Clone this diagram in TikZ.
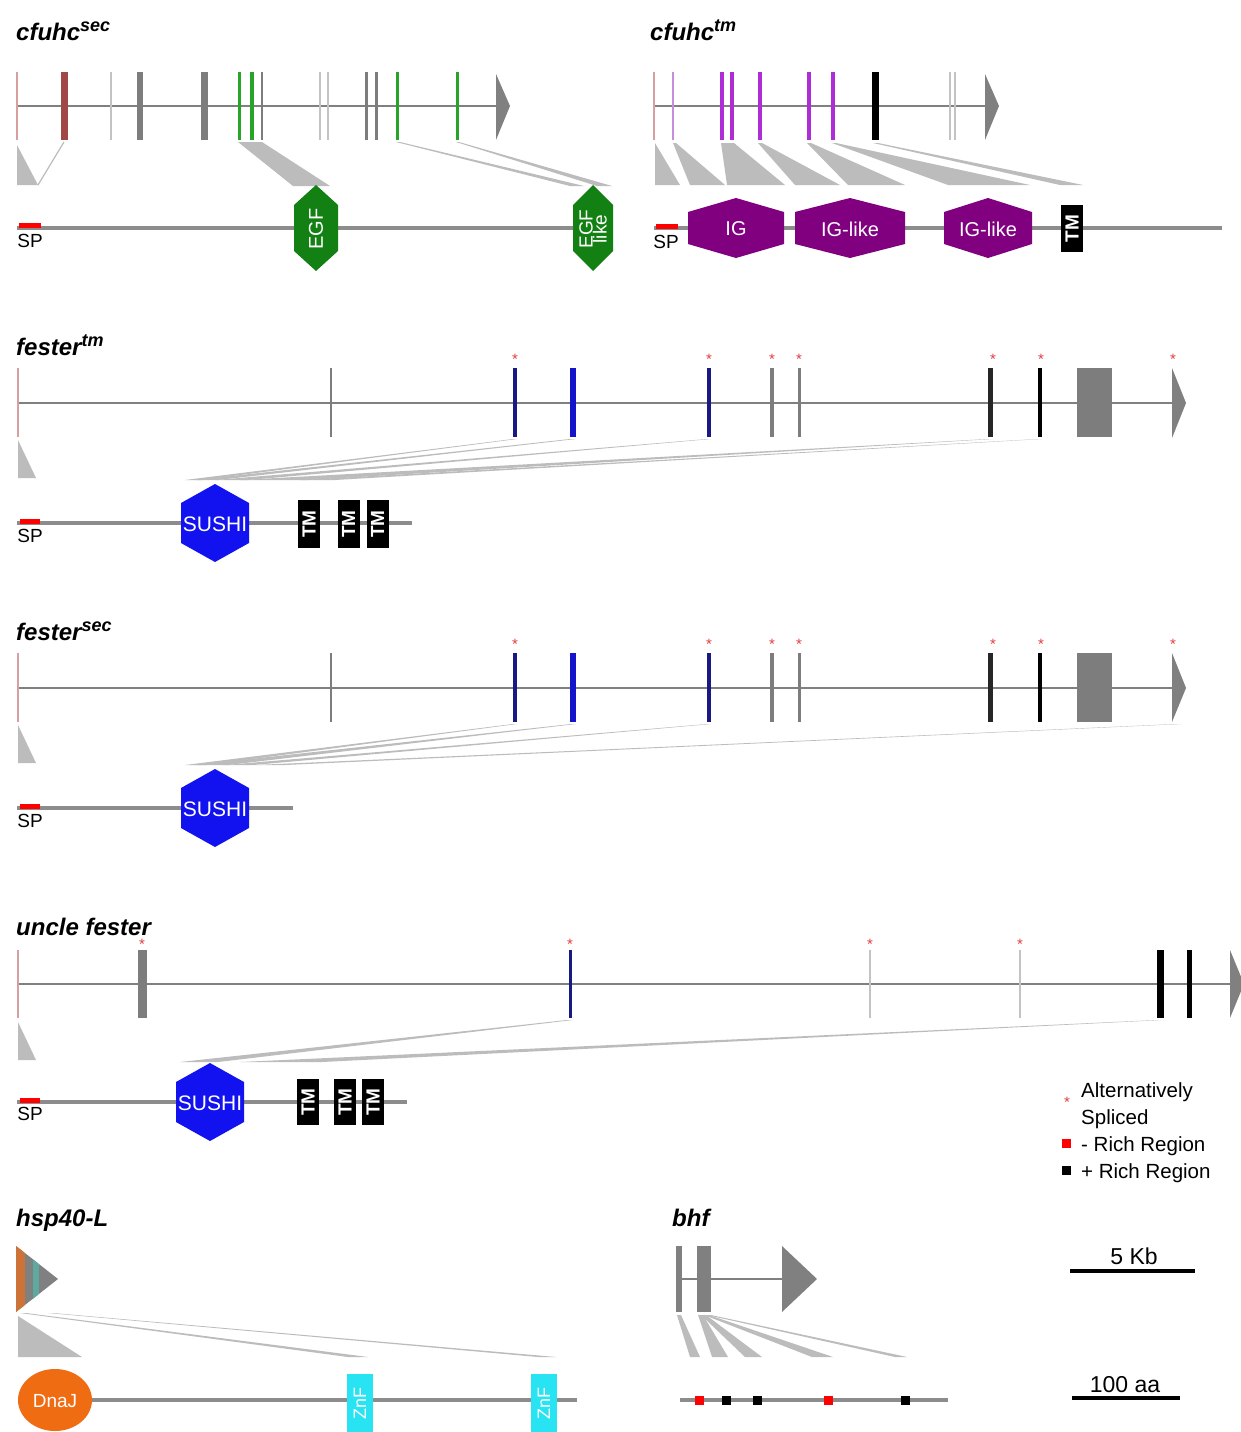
\documentclass[tikz,border=0pt]{standalone}
\usepackage{fontspec}
\setmainfont{Liberation Sans}
\definecolor{genegray}{RGB}{128,128,128}
\definecolor{protgray}{RGB}{140,140,140}
\definecolor{wedgegray}{RGB}{188,188,188}
\definecolor{exgray}{RGB}{125,125,125}
\definecolor{thingray}{RGB}{195,195,195}
\definecolor{darkredex}{RGB}{160,72,72}
\definecolor{thinred}{RGB}{215,160,160}
\definecolor{exgreen}{RGB}{40,165,40}
\definecolor{domgreen}{RGB}{18,128,18}
\definecolor{expurple}{RGB}{175,45,215}
\definecolor{thinpurple}{RGB}{200,140,220}
\definecolor{dompurple}{RGB}{128,0,128}
\definecolor{exnavy}{RGB}{25,25,130}
\definecolor{exblue}{RGB}{20,20,205}
\definecolor{sushiblue}{RGB}{18,18,240}
\definecolor{starred}{RGB}{225,60,60}
\definecolor{dnajorange}{RGB}{240,108,18}
\definecolor{hsporange}{RGB}{205,115,55}
\definecolor{hspteal}{RGB}{95,170,160}
\definecolor{znfcyan}{RGB}{40,228,242}
% exon bar: x-centre, width, top, bottom, colour
\newcommand{\exonbar}[5]{\fill[#5] ({#1-#2/2},#3) rectangle ({#1+#2/2},#4);}
% protein domain hexagon: name, cx, cy, width, height, corner drop, colour
\newcommand{\hexdom}[7]{%
  \fill[#7] (#2,{#3-#5/2}) -- ({#2+#4/2},{#3-#5/2+#6}) -- ({#2+#4/2},{#3+#5/2-#6})
    -- (#2,{#3+#5/2}) -- ({#2-#4/2},{#3+#5/2-#6}) -- ({#2-#4/2},{#3-#5/2+#6}) -- cycle;
  \coordinate (#1) at (#2,#3);}
% thin mapping sliver from an exon to a protein position
\newcommand{\sliver}[6]{\fill[wedge] (#1,#5) -- (#2,#5) -- (#3,#6) -- (#4,#6) -- cycle;}
\begin{document}
\begin{tikzpicture}[x=1pt,y=-1pt,
  intron/.style={draw=genegray,line width=1.8pt},
  prot/.style={draw=protgray,line width=4pt},
  wedge/.style={fill=wedgegray},
  wedgeline/.style={draw=wedgegray,line width=1.2pt},
  title/.style={anchor=base west,inner sep=0pt,font=\fontsize{24}{24}\selectfont\bfseries\itshape},
  splabel/.style={inner sep=0pt,font=\fontsize{19}{19}\selectfont},
  domlabel/.style={inner sep=0pt,text=white,font=\fontsize{20}{20}\selectfont},
  tmlabel/.style={inner sep=0pt,text=white,rotate=90,font=\fontsize{19}{19}\selectfont\bfseries},
  astx/.style={inner sep=0pt,text=starred,font=\fontsize{15}{15}\selectfont},
  legendtext/.style={anchor=base west,inner sep=0pt,font=\fontsize{20.5}{20.5}\selectfont},
  scaletext/.style={anchor=base,inner sep=0pt,font=\fontsize{23}{23}\selectfont}]
\useasboundingbox (0,0) rectangle (1241,1432);
\fill[white] (0,0) rectangle (1241,1432);
\newcommand{\supx}[1]{\raisebox{9pt}{\fontsize{18}{18}\selectfont #1}}

% ================= cfuhc sec =================
\node[title] (t1) at (16,40) {cfuhc\supx{sec}};
\draw[intron] (17,106) -- (496,106);
\fill[genegray] (496,74) -- (510,106) -- (496,140) -- cycle;
\exonbar{17}{1.5}{72}{140}{thinred}
\exonbar{64}{7}{72}{140}{darkredex}
\exonbar{111}{1.5}{72}{140}{thingray}
\exonbar{140}{6}{72}{140}{exgray}
\exonbar{204}{7}{72}{140}{exgray}
\exonbar{239}{3}{72}{140}{exgreen}
\exonbar{252}{4}{72}{140}{exgreen}
\exonbar{262}{2.5}{72}{140}{exgray}
\exonbar{320}{1.5}{72}{140}{thingray}
\exonbar{328}{1.5}{72}{140}{thingray}
\exonbar{366}{3}{72}{140}{exgray}
\exonbar{376}{3}{72}{140}{exgray}
\exonbar{397}{3}{72}{140}{exgreen}
\exonbar{457}{3}{72}{140}{exgreen}
\fill[wedge] (17,145) -- (17,185) -- (38,185) -- cycle;
\draw[wedgeline] (64,142) -- (38,185);
\fill[wedge] (238,142) -- (262,142) -- (330,186) -- (293,186) -- cycle;
\sliver{396}{400}{584}{570}{142}{186}
\sliver{456}{459}{612}{597}{142}{186}
\draw[prot] (17,228) -- (612,228);
\fill[red] (19,223) rectangle (41,228);
\node[splabel] (sp1) at (30,241) {SP};
\hexdom{egf1}{316}{228}{44}{86}{20}{domgreen}
\node[domlabel,rotate=90,font=\fontsize{20}{20}\selectfont] (egf1l) at (316,229) {EGF};
\hexdom{egf2}{593}{228}{40}{86}{20}{domgreen}
\node[domlabel,rotate=90,align=center,font=\fontsize{19}{14}\selectfont] (egf2l) at (593,229) {EGF\\like};

% ================= cfuhc tm =================
\node[title] (t2) at (650,40) {cfuhc\supx{tm}};
\draw[intron] (654,106) -- (985,106);
\fill[genegray] (985,74) -- (999,106) -- (985,140) -- cycle;
\exonbar{654}{1.5}{72}{140}{thinred}
\exonbar{673}{1.5}{72}{140}{thinpurple}
\exonbar{722}{3.5}{72}{140}{expurple}
\exonbar{732}{3.5}{72}{140}{expurple}
\exonbar{760}{3.5}{72}{140}{expurple}
\exonbar{809}{3.5}{72}{140}{expurple}
\exonbar{833}{3.5}{72}{140}{expurple}
\exonbar{875}{7}{72}{140}{black}
\exonbar{950}{1.5}{72}{140}{thingray}
\exonbar{955}{1.5}{72}{140}{thingray}
\fill[wedge] (655,143) -- (655,185) -- (680,185) -- cycle;
\sliver{673}{676}{725}{690}{143}{185}
\sliver{721}{734}{785}{727}{143}{185}
\sliver{758}{762}{840}{795}{143}{185}
\sliver{807}{811}{905}{848}{143}{185}
\sliver{832}{836}{1030}{948}{143}{185}
\sliver{873}{878}{1083}{1060}{143}{185}
\draw[prot] (654,228) -- (1222,228);
\fill[red] (656,224) rectangle (678,229);
\node[splabel] (sp2) at (666,242) {SP};
\hexdom{ig1}{736}{228}{96}{60}{14}{dompurple}
\node[domlabel] (ig1l) at (736,229) {IG};
\hexdom{ig2}{850}{228}{110}{60}{14}{dompurple}
\node[domlabel] (ig2l) at (850,229) {IG-like};
\hexdom{ig3}{988}{228}{88}{60}{14}{dompurple}
\node[domlabel] (ig3l) at (988,229) {IG-like};
\fill[black] (1061,205) rectangle (1083,252);
\node[tmlabel] (tm0) at (1072,228.5) {TM};

% ================= fester tm =================
\node[title] (t3) at (16,355) {fester\supx{tm}};
\draw[intron] (17,403) -- (1172,403);
\fill[genegray] (1172,368) -- (1186,403) -- (1172,438) -- cycle;
\exonbar{18}{1.5}{368}{437}{thinred}
\exonbar{331}{2.5}{368}{437}{exgray}
\exonbar{515}{3.5}{368}{437}{exnavy}
\exonbar{573}{6}{368}{437}{exblue}
\exonbar{709}{3.5}{368}{437}{exnavy}
\exonbar{772}{4}{368}{437}{exgray}
\exonbar{799}{3}{368}{437}{exgray}
\exonbar{990}{5}{368}{437}{black!85}
\exonbar{1040}{4}{368}{437}{black}
\fill[exgray] (1077,368) rectangle (1112,437);
\foreach \sx [count=\si] in {515,709,772,799,993,1041,1173}
  \node[astx] (ftstar\si) at (\sx,359) {*};
\fill[wedge] (18,440) -- (18,478) -- (36,478) -- cycle;
\sliver{513}{517}{202}{185}{439}{480}
\sliver{570}{576}{218}{195}{439}{480}
\sliver{707}{711}{248}{215}{439}{480}
\sliver{988}{993}{308}{240}{439}{480}
\sliver{1038}{1042}{335}{300}{439}{480}
\draw[prot] (17,523) -- (412,523);
\fill[red] (20,519) rectangle (40,524);
\node[splabel] (sp3) at (30,536) {SP};
\hexdom{sushi1}{215}{523}{68}{78}{19}{sushiblue}
\node[domlabel,font=\fontsize{21}{21}\selectfont] (sushi1l) at (215,524) {SUSHI};
\foreach \tx [count=\ti] in {309,348.5,377.5} {
  \fill[black] ({\tx-11},500) rectangle ({\tx+11},548);
  \node[tmlabel] (tma\ti) at (\tx,524) {TM};
}

% ================= fester sec =================
\node[title] (t4) at (16,640) {fester\supx{sec}};
\draw[intron] (17,688) -- (1172,688);
\fill[genegray] (1172,653) -- (1186,688) -- (1172,722) -- cycle;
\exonbar{18}{1.5}{653}{722}{thinred}
\exonbar{331}{2.5}{653}{722}{exgray}
\exonbar{515}{3.5}{653}{722}{exnavy}
\exonbar{573}{6}{653}{722}{exblue}
\exonbar{709}{3.5}{653}{722}{exnavy}
\exonbar{772}{4}{653}{722}{exgray}
\exonbar{799}{3}{653}{722}{exgray}
\exonbar{990}{5}{653}{722}{black!85}
\exonbar{1040}{4}{653}{722}{black}
\fill[exgray] (1077,653) rectangle (1112,722);
\foreach \sx [count=\si] in {515,709,772,799,993,1041,1173}
  \node[astx] (fsstar\si) at (\sx,644) {*};
\fill[wedge] (18,725) -- (18,763) -- (36,763) -- cycle;
\sliver{513}{517}{207}{185}{724}{765}
\sliver{571}{576}{228}{195}{724}{765}
\sliver{707}{711}{253}{225}{724}{765}
\sliver{1176}{1182}{285}{255}{724}{765}
\draw[prot] (17,808) -- (293,808);
\fill[red] (20,804) rectangle (40,809);
\node[splabel] (sp4) at (30,821) {SP};
\hexdom{sushi2}{215}{808}{68}{78}{19}{sushiblue}
\node[domlabel,font=\fontsize{21}{21}\selectfont] (sushi2l) at (215,809) {SUSHI};

% ================= uncle fester =================
\node[title] (t5) at (16,935) {uncle fester};
\draw[intron] (17,984) -- (1230,984);
\fill[genegray] (1230,950) -- (1244,984) -- (1230,1018) -- cycle;
\exonbar{18}{1.5}{950}{1018}{thinred}
\exonbar{142}{9}{950}{1018}{exgray}
\exonbar{570}{3}{950}{1018}{exnavy}
\exonbar{870}{1.5}{950}{1018}{thingray}
\exonbar{1020}{1.5}{950}{1018}{thingray}
\exonbar{1160}{7}{950}{1018}{black}
\exonbar{1189}{5}{950}{1018}{black}
\foreach \sx [count=\si] in {142,570,870,1020}
  \node[astx] (ufstar\si) at (\sx,944) {*};
\fill[wedge] (18,1022) -- (18,1060) -- (36,1060) -- cycle;
\sliver{567}{573}{218}{180}{1020}{1062}
\sliver{1157}{1163}{322}{240}{1020}{1062}
\draw[prot] (17,1102) -- (407,1102);
\fill[red] (20,1098) rectangle (40,1103);
\node[splabel] (sp5) at (30,1114) {SP};
\hexdom{sushi3}{210}{1102}{68}{78}{19}{sushiblue}
\node[domlabel,font=\fontsize{21}{21}\selectfont] (sushi3l) at (210,1103) {SUSHI};
\foreach \tx [count=\ti] in {308,345,373} {
  \fill[black] ({\tx-11},1079) rectangle ({\tx+11},1125);
  \node[tmlabel] (tmb\ti) at (\tx,1102) {TM};
}

% ================= legend =================
\node[astx] (legstar) at (1067,1102) {*};
\node[legendtext] (leg1) at (1081,1097) {Alternatively};
\node[legendtext] (leg2) at (1081,1124) {Spliced};
\fill[red] (1062,1139) rectangle (1071,1148);
\node[legendtext] (leg3) at (1081,1151) {- Rich Region};
\fill[black] (1062,1166) rectangle (1071,1175);
\node[legendtext] (leg4) at (1081,1178) {+ Rich Region};

% ================= hsp40-L =================
\node[title] (t6) at (16,1226) {hsp40-L};
\fill[genegray] (16,1246) -- (58,1279) -- (16,1312) -- cycle;
\begin{scope}
  \clip (16,1246) -- (58,1279) -- (16,1312) -- cycle;
  \fill[hsporange] (16,1240) rectangle (25,1320);
  \fill[hspteal] (33,1240) rectangle (39,1320);
\end{scope}
\fill[wedge] (18,1316) -- (18,1357) -- (82,1357) -- cycle;
\sliver{20}{26}{368}{348}{1313}{1357}
\sliver{48}{53}{556}{538}{1313}{1357}
\draw[prot] (55,1400) -- (577,1400);
\fill[dnajorange] (55,1400) ellipse [x radius=37, y radius=31];
\node[domlabel,font=\fontsize{19}{19}\selectfont] (dnaj) at (55,1401) {DnaJ};
\fill[znfcyan] (347,1374) rectangle (373,1434);
\node[domlabel,rotate=90,font=\fontsize{18}{18}\selectfont] (znf1) at (360,1403) {ZnF};
\fill[znfcyan] (531,1374) rectangle (557,1434);
\node[domlabel,rotate=90,font=\fontsize{18}{18}\selectfont] (znf2) at (544,1403) {ZnF};

% ================= bhf =================
\node[title] (t7) at (672,1226) {bhf};
\draw[intron] (680,1279) -- (782,1279);
\fill[genegray] (676,1246) rectangle (682,1312);
\fill[genegray] (697,1246) rectangle (711,1312);
\fill[genegray] (782,1246) -- (817,1279) -- (782,1312) -- cycle;
\sliver{677}{681}{700}{690}{1315}{1357}
\sliver{698}{703}{728}{712}{1315}{1357}
\sliver{701}{706}{762}{745}{1315}{1357}
\sliver{704}{709}{833}{812}{1315}{1357}
\sliver{707}{711}{907}{895}{1315}{1357}
\draw[prot] (680,1400) -- (948,1400);
\foreach \bx/\bc [count=\bi] in {699/red,726/black,757/black,828/red,905/black}
  \fill[\bc] ({\bx-4.5},1395.5) rectangle ({\bx+4.5},1404.5);

% ================= scale bars =================
\node[scaletext] (kb) at (1134,1264) {5 Kb};
\draw[line width=3.5pt] (1070,1271) -- (1195,1271);
\node[scaletext] (aa) at (1125,1392) {100 aa};
\draw[line width=3.5pt] (1072,1398) -- (1180,1398);
\end{tikzpicture}
\end{document}
